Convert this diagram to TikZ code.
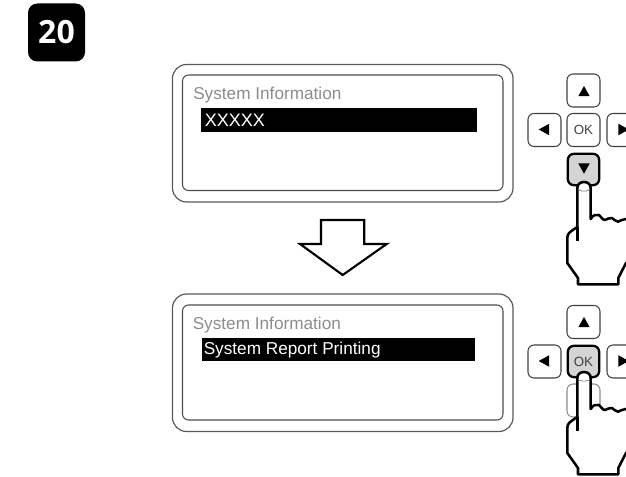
\documentclass[tikz,border=0pt]{standalone}
\usepackage{fontspec}
\setmainfont{Liberation Sans}
\newfontfamily\badgefont{Open Sans}
\tikzset{
  panelouter/.style={draw=black!65,line width=0.9pt,rounded corners=10.5pt},
  panelinner/.style={draw=black!70,line width=0.8pt,rounded corners=4.5pt},
  bar/.style={fill=black},
  title/.style={anchor=base west,inner sep=0pt,text=black!45,font=\fontsize{12.9}{15}\selectfont},
  bartext/.style={anchor=base west,inner sep=0pt,text=white,font=\fontsize{12.9}{15}\selectfont},
  key/.style={draw=black!75,line width=0.8pt,rounded corners=4.5pt,minimum size=24.75pt,inner sep=0pt,fill=white,text=black!75,font=\fontsize{10}{11}\selectfont},
  pressed/.style={key,draw=black,line width=1.7pt,fill=black!17,minimum size=23.5pt},
  faded/.style={key,draw=black!45},
  handline/.style={draw=black,line width=1.9pt,line join=round,fill=white},
  creaseline/.style={draw=black,line width=1.9pt},
  nail/.style={draw=black!45,line width=0.6pt}
}
\newcommand{\mytri}[4]{\fill[black,shift={(#1,#2)},rotate=#3] (-#4,#4*0.9) -- (#4,#4*0.9) -- (0,-#4*0.9) -- cycle;}
\newcommand{\myhand}[1]{%
  \begin{scope}[shift={(0,#1)}]
    \path[handline] (577.3,417) -- (577.3,378)
      .. controls (577.3,370) and (590.7,370) .. (590.7,378)
      -- (590.7,409)
      .. controls (593,405) and (596,404) .. (599,405)
      .. controls (601,406) and (602,410) .. (605,410)
      .. controls (607,410) and (609,407) .. (612,408)
      .. controls (614,409) and (616,412) .. (618,411.7)
      .. controls (620,411) and (623,409) .. (626,409)
      -- (645,409) -- (645,440) -- (626,453) -- (618.3,468) -- (618.3,474.3) -- (578,474.3) -- (578,468)
      -- (567.3,453) -- (567.3,428) .. controls (567.3,423) and (570,422) .. (577.3,417) -- cycle;
    \draw[creaseline] (577.3,417) -- (577.3,431);
    \draw[nail] (579,380) .. controls (582,381.5) and (586,381.5) .. (589,380);
  \end{scope}}
\begin{document}
\begin{tikzpicture}[x=0.75pt,y=-0.75pt]
\clip (0,0) rectangle (626,477);
% badge
\node[fill=black,rounded corners=7pt,minimum width=42.75pt,minimum height=43.5pt,inner sep=0pt,text=white,font=\badgefont\bfseries\fontsize{24}{26}\selectfont] (badge) at (56.5,32.5) {\raisebox{-1.5pt}{20}};
% first panel
\draw[panelouter] (172.5,64.5) rectangle (513,202);
\draw[panelinner] (182.5,75) rectangle (503,190.5);
\fill[bar] (201,108) rectangle (477,132);
\node[title] (t1) at (193,99.5) {System Information};
\node[bartext,font=\fontsize{13.5}{15}\selectfont] (b1) at (204.5,126.7) {XXXXX};
% second panel
\draw[panelouter] (172.5,294) rectangle (513,431.5);
\draw[panelinner] (182.5,305) rectangle (503,420);
\fill[bar] (201.5,338) rectangle (475,361);
\node[title] (t2) at (192.5,329.5) {System Information};
\node[bartext] (b2) at (203.5,355) {System Report Printing};
% big arrow
\draw[draw=black,line width=1.6pt,line join=miter,fill=white] (321,220) -- (364.3,220) -- (364.3,244) -- (386.7,244) -- (342.7,275) -- (300,244) -- (321,244) -- cycle;
% keypad 1
\node[key] (up1) at (583.5,90.5) {};
\node[key] (left1) at (544.5,130) {};
\node[key] (ok1) at (583.5,130) {OK};
\node[key] (right1) at (623.5,130) {};
\node[pressed] (down1) at (583.5,169.5) {};
\mytri{584}{91}{0}{5.6}
\mytri{544}{129.5}{90}{5.8}
\mytri{623.5}{129.5}{-90}{5.8}
\mytri{584}{168.5}{180}{5.8}
\myhand{-190}
% keypad 2
\node[key] (up2) at (583.5,322) {};
\node[key] (left2) at (544.5,361.5) {};
\node[pressed] (ok2) at (583.5,361.5) {OK};
\node[key] (right2) at (623.5,361.5) {};
\node[faded] (down2) at (583.5,400.5) {};
\mytri{584}{322}{0}{5.6}
\mytri{544}{361}{90}{5.8}
\mytri{623.5}{361}{-90}{5.8}
\myhand{0}
\end{tikzpicture}
\end{document}
